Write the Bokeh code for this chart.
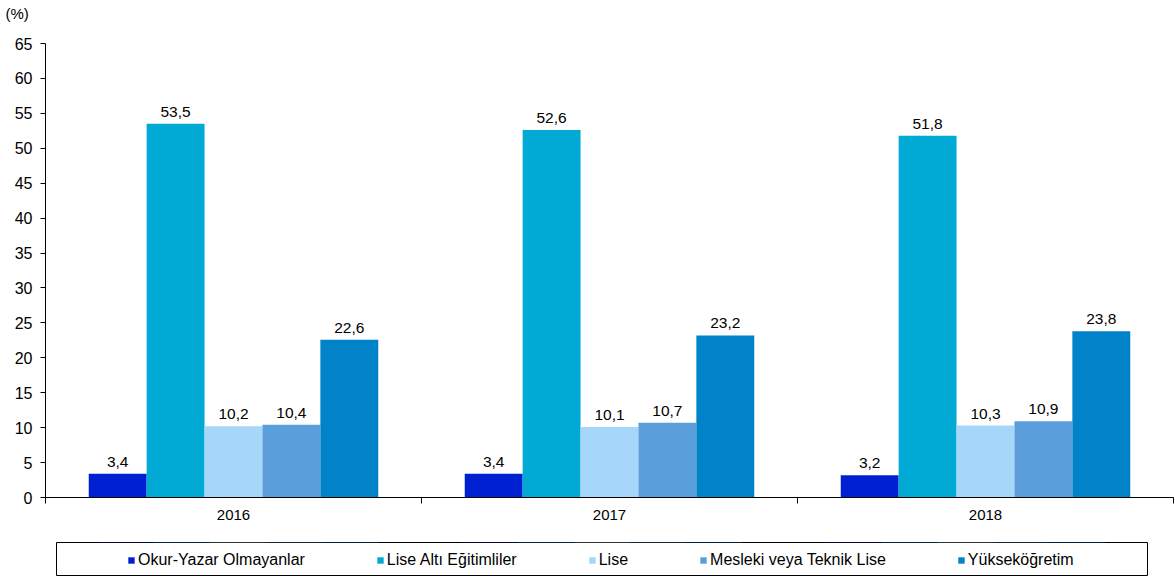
from bokeh.plotting import figure
from bokeh.models import ColumnDataSource, Range1d, FixedTicker, LabelSet, Label, Legend, LegendItem, Spacer
from bokeh.transform import dodge
from bokeh.layouts import column, row
from bokeh.embed import file_html
from bokeh.resources import INLINE
from bokeh.core.properties import value

# ---- data ----
years = ["2016", "2017", "2018"]
series_names = ["Okur-Yazar Olmayanlar", "Lise Altı Eğitimliler", "Lise",
                "Mesleki veya Teknik Lise", "Yükseköğretim"]
okur_yazar_olmayanlar = [3.4, 3.4, 3.2]
lise_alti = [53.5, 52.6, 51.8]
lise = [10.2, 10.1, 10.3]
mesleki_teknik = [10.4, 10.7, 10.9]
yuksekogretim = [22.6, 23.2, 23.8]
y_ticks = [0, 5, 10, 15, 20, 25, 30, 35, 40, 45, 50, 55, 60, 65]
unit_label = "(%)"

colors = ["#0021D1", "#00AAD5", "#A6D6FA", "#5A9FDB", "#0083C9"]
FONT = "Liberation Sans"

series = [okur_yazar_olmayanlar, lise_alti, lise, mesleki_teknik, yuksekogretim]

# ---- unit label strip above the chart ----
ptop = figure(width=1175, height=30, output_backend="svg", toolbar_location=None,
              x_range=Range1d(0, 1), y_range=Range1d(0, 1),
              x_axis_type=None, y_axis_type=None,
              min_border_left=0, min_border_right=0, min_border_top=0, min_border_bottom=0)
ptop.outline_line_color = None
ptop.grid.visible = False
ptop.add_layout(Label(x=5, y=17, x_units="screen", y_units="screen", text=unit_label,
                      text_baseline="middle", text_align="left",
                      text_font=FONT, text_font_size="15px", text_color="black"))

# ---- main chart ----
p = figure(width=1175, height=511, x_range=Range1d(0, len(years)), y_range=Range1d(0, 65),
           output_backend="svg", toolbar_location=None,
           min_border_left=45, min_border_right=2, min_border_top=13, min_border_bottom=44)
p.outline_line_color = None
p.xgrid.visible = False
p.ygrid.visible = False

pos = [i + 0.5 for i in range(len(years))]
bw = 0.154
sources = []
for k, (name, vals, col) in enumerate(zip(series_names, series, colors)):
    off = (k - 2) * bw
    src = ColumnDataSource(dict(x=pos, y=vals,
                                label=[f"{v:.1f}".replace(".", ",") for v in vals]))
    sources.append((off, src))
    p.vbar(x=dodge("x", off), top="y", width=bw, source=src,
           fill_color=col, line_color=None)
    p.add_layout(LabelSet(x=dodge("x", off), y="y", text="label", source=src,
                          text_align="center", text_baseline="bottom", y_offset=7,
                          text_font=value(FONT), text_font_size="15.5px", text_color="#000000"))

# x axis: labels at group centers, tick marks at group boundaries
p.xaxis.ticker = FixedTicker(ticks=pos, minor_ticks=list(range(len(years) + 1)))
p.xaxis.major_label_overrides = {pp: y for pp, y in zip(pos, years)}
p.xaxis.major_tick_line_color = None
p.xaxis.major_tick_out = 0
p.xaxis.major_tick_in = 0
p.xaxis.minor_tick_line_color = "black"
p.xaxis.minor_tick_out = 6
p.xaxis.minor_tick_in = 0
p.xaxis.axis_line_color = "black"
p.xaxis.major_label_standoff = 6
p.xaxis.major_label_text_font = FONT
p.xaxis.major_label_text_font_size = "15px"
p.xaxis.major_label_text_color = "black"

p.yaxis.ticker = FixedTicker(ticks=y_ticks)
p.yaxis.major_tick_out = 5
p.yaxis.major_tick_in = 0
p.yaxis.minor_tick_line_color = None
p.yaxis.axis_line_color = "black"
p.yaxis.major_tick_line_color = "black"
p.yaxis.major_label_text_font = FONT
p.yaxis.major_label_text_font_size = "16px"
p.yaxis.major_label_text_color = "black"
p.yaxis.major_label_standoff = 8

# ---- legend box ----
p2 = figure(width=1093, height=35, output_backend="svg", toolbar_location=None,
            x_range=Range1d(0, len(years)), y_range=Range1d(-2, -1),
            x_axis_type=None, y_axis_type=None,
            min_border_left=1, min_border_right=1, min_border_top=1, min_border_bottom=1)
p2.outline_line_color = "black"
p2.outline_line_width = 1
p2.grid.visible = False
rends = [p2.vbar(x=dodge("x", off), top="y", width=bw, source=src, fill_color=c, line_color=None)
         for (off, src), c in zip(sources, colors)]
legend = Legend(items=[LegendItem(label=n, renderers=[r]) for n, r in zip(series_names, rends)],
                orientation="horizontal", location=(71, 6), padding=0, spacing=71,
                glyph_width=8, glyph_height=8, label_standoff=3, margin=0,
                border_line_color=None, background_fill_alpha=0,
                label_text_font=FONT, label_text_font_size="16px", label_text_color="black")
p2.add_layout(legend)

layout = column(row(ptop, spacing=0), p, row(Spacer(width=55, height=35), p2, spacing=0), spacing=0)
open("out.html", "w").write(file_html(layout, INLINE))
